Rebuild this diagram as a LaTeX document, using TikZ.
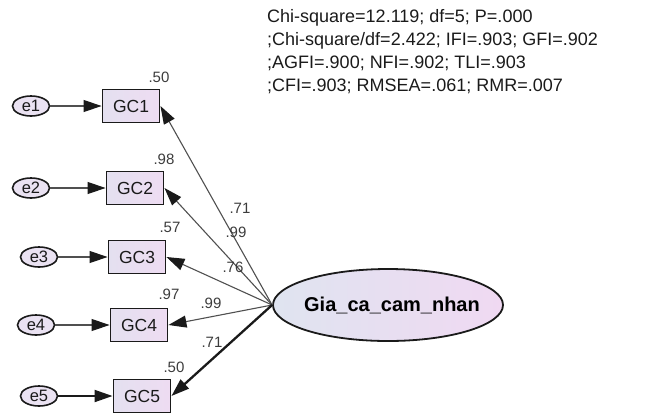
\documentclass[tikz,border=0pt]{standalone}
\usepackage{fontspec}
\setmainfont{Liberation Sans}
\usetikzlibrary{arrows.meta,shapes.geometric}

\definecolor{boxL}{HTML}{E4E0F0}
\definecolor{boxR}{HTML}{EEDCF2}
\definecolor{latL}{HTML}{DFE4F0}
\definecolor{latR}{HTML}{F0D9F2}
\definecolor{errF}{HTML}{EAE2F2}
\definecolor{ink}{HTML}{1A1A1A}
\definecolor{pathgray}{HTML}{505050}

\begin{document}
\begin{tikzpicture}[x=1pt,y=-1pt,
  obs/.style={draw=ink, line width=1.9pt, minimum width=57pt, minimum height=33pt,
    inner sep=0pt, left color=boxL, right color=boxR, text=ink,
    font=\fontsize{17.5}{17.5}\selectfont},
  err/.style={ellipse, draw=ink, line width=1.6pt, minimum width=37pt,
    minimum height=20pt, inner sep=0pt, fill=errF, text=ink,
    font=\fontsize{16.5}{16.5}\selectfont},
  lat/.style={ellipse, draw=ink, line width=1.8pt, minimum width=230pt,
    minimum height=72pt, inner sep=0pt, left color=latL, right color=latR},
  latname/.style={text=black, inner sep=0pt,
    font=\fontsize{20}{20}\selectfont\bfseries},
  est/.style={text=ink!85, inner sep=0pt, font=\fontsize{15}{15}\selectfont},
  tip/.style={-{Triangle[length=18pt,width=12pt,color=ink]}},
  lnk/.style={tip, draw=pathgray, line width=1.1pt},
  heavy/.style={tip, draw=ink, line width=2.3pt},
]
\useasboundingbox (0,0) rectangle (650,416);

% fit statistics
\node[anchor=north west, inner sep=0pt, align=left, text=ink,
  font=\fontsize{18}{23}\selectfont] (fit) at (267,9)
  {Chi-square=12.119; df=5; P=.000\\
   ;Chi-square/df=2.422; IFI=.903; GFI=.902\\
   ;AGFI=.900; NFI=.902; TLI=.903\\
   ;CFI=.903; RMSEA=.061; RMR=.007};

% latent factor (outline drawn on its own so its size is fixed)
\node[lat] (M) at (388,305) {};
\node[latname] (Mname) at (392,305) {Gia\_ca\_cam\_nhan};

% indicators
\node[obs] (g1) at (131,106) {GC1};
\node[obs] (g2) at (135,188) {GC2};
\node[obs] (g3) at (137,257) {GC3};
\node[obs] (g4) at (139,325) {GC4};
\node[obs] (g5) at (142,396) {GC5};

% error terms
\node[err] (e1) at (31,106) {e1};
\node[err] (e2) at (31,188) {e2};
\node[err] (e3) at (39,257) {e3};
\node[err] (e4) at (36,325) {e4};
\node[err] (e5) at (39,396) {e5};

% error paths
\draw[lnk] (e1) -- (g1);
\draw[lnk] (e2) -- (g2);
\draw[lnk] (e3) -- (g3);
\draw[lnk] (e4) -- (g4);
\draw[heavy, line width=1.9pt] (e5) -- (g5);

% loadings
\draw[lnk] (M.west) -- (g1.east);
\draw[lnk] (M.west) -- (g2.east);
\draw[lnk] (M.west) -- (g3.east);
\draw[lnk] (M.west) -- (g4.east);
\draw[heavy] (M.west) -- (g5.east);

% squared multiple correlations
\node[est] (r1) at (159,77) {.50};
\node[est] (r2) at (164,159) {.98};
\node[est] (r3) at (170,227) {.57};
\node[est] (r4) at (169,294) {.97};
\node[est] (r5) at (174,367) {.50};

% standardized loadings
\node[est] (l1) at (240,208) {.71};
\node[est] (l2) at (236,232) {.99};
\node[est] (l3) at (233,267) {.76};
\node[est] (l4) at (211,303) {.99};
\node[est] (l5) at (212,342) {.71};
\end{tikzpicture}
\end{document}
